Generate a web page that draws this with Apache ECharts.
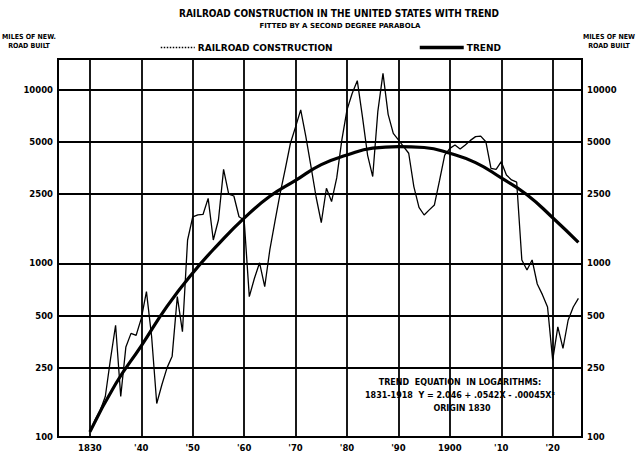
<!DOCTYPE html>
<html><head><meta charset="utf-8">
<script src="https://cdn.jsdelivr.net/npm/echarts@6/dist/echarts.min.js"></script>
<style>html,body{margin:0;padding:0;background:#fff}#c{width:639px;height:457px}</style>
</head><body><div id="c"></div>
<script>
// ---- data ----
const years = [1830,1831,1832,1833,1834,1835,1836,1837,1838,1839,1840,1841,1842,1843,1844,1845,1846,1847,1848,1849,
  1850,1851,1852,1853,1854,1855,1856,1857,1858,1859,1860,1861,1862,1863,1864,1865,1866,1867,1868,1869,
  1870,1871,1872,1873,1874,1875,1876,1877,1878,1879,1880,1881,1882,1883,1884,1885,1886,1887,1888,1889,
  1890,1891,1892,1893,1894,1895,1896,1897,1898,1899,1900,1901,1902,1903,1904,1905,1906,1907,1908,1909,
  1910,1911,1912,1913,1914,1915,1916,1917,1918,1919,1920,1921,1922,1923,1924,1925];
const miles = [108,125,142,171,280,440,171,330,395,385,482,687,380,156,200,250,292,643,404,1362,
  1850,1900,1910,2366,1362,1775,3475,2500,2440,1854,1775,643,820,1007,733,1200,1750,2530,3500,4910,
  6100,7640,5360,3600,2400,1714,2705,2266,3100,5130,7640,9500,11250,6980,4200,3157,7500,12410,7200,5600,
  5130,4700,4300,2763,2100,1897,2030,2167,3000,4200,4590,4800,4550,4800,5100,5360,5400,5010,3520,3470,
  3845,3220,3020,2930,1045,914,1045,760,660,560,277,430,324,470,560,628];
const trendYears = [1830,1835,1840,1845,1850,1855,1860,1865,1870,1875,1880,1885,1890,1895,1900,1905,1910,1915,1920,1925];
const trendMiles = [107,202,335,565,880,1290,1820,2430,3000,3700,4200,4600,4700,4640,4300,3800,3100,2480,1830,1320];
const xTickYears = [1830,1840,1850,1860,1870,1880,1890,1900,1910,1920];
const xTickLabels = ['1830',"'40","'50","'60","'70","'80","'90",'1900',"'10","'20"];
const yTickValues = [100,250,500,1000,2500,5000,10000];
const yTickLabels = ['100','250','500','1000','2500','5000','10000'];

const FAM = '"DejaVu Sans", sans-serif';
const COND = '"DejaVu Sans Condensed", "Liberation Sans Narrow", "DejaVu Sans", sans-serif';
const lbl = (pos, text, dist) => ({show:true, position:pos, formatter:text, distance:dist,
  color:'#000', fontFamily:FAM, fontWeight:'bold', fontSize:8.5});

const gridLines = [];
yTickValues.forEach((v,i)=>gridLines.push({yAxis:v, label:lbl('start', yTickLabels[i], 5)}));
xTickYears.forEach((v,i)=>gridLines.push({xAxis:v, label:lbl('start', xTickLabels[i], 6)}));
const rightLines = yTickValues.map((v,i)=>({yAxis:v, label:lbl('end', yTickLabels[i], 5)}));

const txt = (x, y, text, font) => ({type:'text', x:x, y:y, style:{text:text, font:font, fill:'#000', textAlign:'center', textVerticalAlign:'middle'}});

const chart = echarts.init(document.getElementById('c'), null, {renderer:'svg'});
chart.setOption({
  animation:false,
  backgroundColor:'#fff',
  grid:{left:58, right:57, top:59, bottom:20, show:true, borderColor:'#000', borderWidth:2, backgroundColor:'transparent'},
  xAxis:{type:'value', min:1823.8, max:1925.7, axisLine:{show:false}, axisTick:{show:false}, axisLabel:{show:false}, splitLine:{show:false}},
  yAxis:{type:'log', logBase:10, min:100, max:15000, axisLine:{show:false}, axisTick:{show:false}, axisLabel:{show:false}, splitLine:{show:false}},
  legend:[
    {data:['RAILROAD CONSTRUCTION'], left:155, top:38, itemWidth:34, itemHeight:10, selectedMode:false,
     itemStyle:{opacity:0}, lineStyle:{type:'dotted', width:1.5},
     textStyle:{color:'#000', fontFamily:FAM, fontWeight:'bold', fontSize:9, padding:[0,0,0,-2]}},
    {data:['TREND'], left:413, top:38, itemWidth:44, itemHeight:10, selectedMode:false,
     itemStyle:{opacity:0}, lineStyle:{width:3.5},
     textStyle:{color:'#000', fontFamily:FAM, fontWeight:'bold', fontSize:9, padding:[0,0,0,-2]}}
  ],
  graphic:[
    txt(339, 13, 'RAILROAD CONSTRUCTION IN THE UNITED STATES WITH TREND', 'bold 10px '+COND),
    txt(340, 26, 'FITTED BY A SECOND DEGREE PARABOLA', 'bold 7px '+FAM),
    txt(29, 37, 'MILES OF NEW.', 'bold 7px '+COND),
    txt(29, 46, 'ROAD BUILT', 'bold 7px '+COND),
    txt(609, 37, 'MILES OF NEW', 'bold 7px '+COND),
    txt(609, 46, 'ROAD BUILT', 'bold 7px '+COND),
    txt(460, 382, 'TREND  EQUATION  IN LOGARITHMS:', 'bold 8px '+FAM),
    txt(460, 395, '1831-1918  Y = 2.046 + .0542X - .00045X\u00B2', 'bold 8px '+FAM),
    txt(462, 408, 'ORIGIN 1830', 'bold 8px '+FAM)
  ],
  series:[
    {name:'RAILROAD CONSTRUCTION', type:'line', symbol:'none', z:3,
     data:years.map((y,i)=>[y, miles[i]]),
     lineStyle:{color:'#000', width:1.3},
     itemStyle:{color:'#000'},
     markLine:{silent:true, symbol:['none','none'], z:1, lineStyle:{color:'#000', width:1.8, type:'solid'},
       emphasis:{disabled:true}, data:rightLines}},
    {name:'TREND', type:'line', symbol:'none', smooth:true, z:4,
     data:trendYears.map((y,i)=>[y, trendMiles[i]]),
     lineStyle:{color:'#000', width:3.2},
     itemStyle:{color:'#000'},
     markLine:{silent:true, symbol:['none','none'], z:1, lineStyle:{color:'#000', width:1.8, type:'solid'},
       emphasis:{disabled:true}, data:gridLines}}
  ]
});
</script></body></html>
